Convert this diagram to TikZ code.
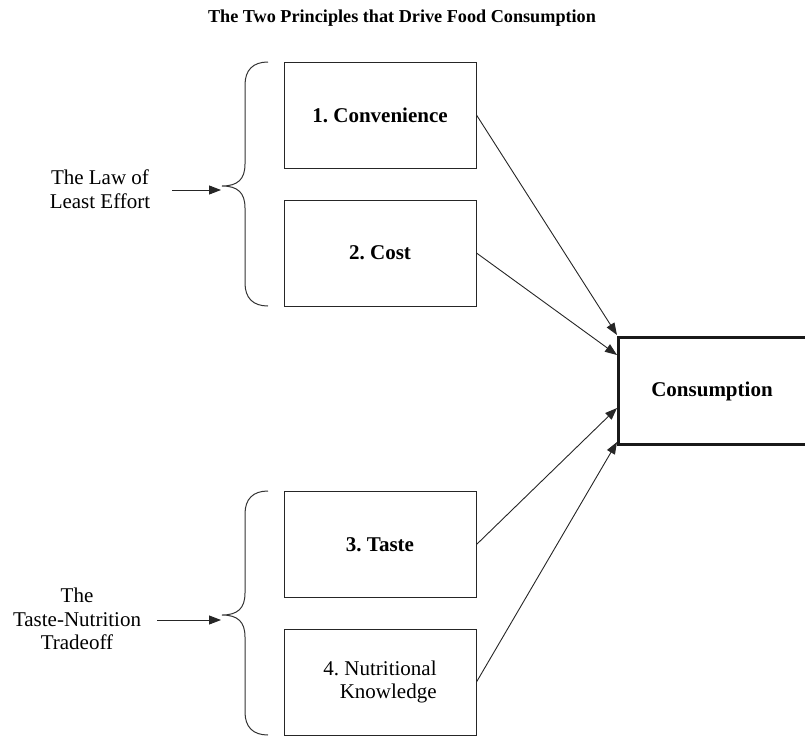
\documentclass[tikz,border=0pt]{standalone}
\usepackage{fontspec}
\setmainfont{Liberation Serif}
\usetikzlibrary{arrows.meta}
\frenchspacing
\begin{document}
\begin{tikzpicture}[x=1pt,y=-1pt,
  box/.style={draw=black!85, line width=1pt, minimum width=192pt, minimum height=106pt, inner sep=0pt, font=\fontsize{21}{23.5}\selectfont\bfseries},
  plainbox/.style={box, font=\fontsize{21}{22.5}\selectfont, align=right},
  consbox/.style={draw=none, minimum width=186pt, minimum height=107pt, inner sep=0pt, font=\fontsize{21}{23.5}\selectfont\bfseries},
  lbl/.style={font=\fontsize{21}{23.5}\selectfont, align=center, inner sep=0pt},
  conn/.style={draw=black!85, line width=0.9pt, -{Triangle[length=12pt,width=9pt]}},
  bracepath/.style={draw=black!80, line width=1pt}]
\clip (0,0) rectangle (805,736);
% title
\node[anchor=base, font=\fontsize{18.2}{20}\selectfont\bfseries, inner sep=0pt] (title) at (402,22) {The Two Principles that Drive Food Consumption};
% boxes
\node[box] (b1) at (380,115) {1. Convenience};
\node[box] (b2) at (380,253) {2. Cost};
\node[box] (b3) at (380,544.5) {3. Taste};
\node[plainbox] (b4) at (380,682) {4. Nutritional\\Knowledge};
% consumption
\node[consbox] (cons) at (712,391) {Consumption};
\draw[line width=3pt, black!90] (cons.north east) -- (cons.north west) -- (cons.south west) -- (cons.south east);
% braces
\path[bracepath] (268,62) .. controls (253,62) and (245,70) .. (245,85) -- (245,164)
  .. controls (245,179) and (238,186) .. (222,186)
  .. controls (238,186) and (245,193) .. (245,208) -- (245,283)
  .. controls (245,298) and (253,306) .. (268,306);
\path[bracepath] (268,491) .. controls (253,491) and (245,499) .. (245,514) -- (245,593)
  .. controls (245,608) and (238,615) .. (222,615)
  .. controls (238,615) and (245,622) .. (245,637) -- (245,712)
  .. controls (245,727) and (253,735) .. (268,735);
% side labels
\node[lbl] (law) at (100,189) {The Law of\\Least Effort};
\node[lbl] (tnt) at (77,619) {The\\Taste-Nutrition\\Tradeoff};
\coordinate (a1s) at (172,190);
\coordinate (a1e) at (221,190);
\coordinate (a2s) at (157,620);
\coordinate (a2e) at (221,620);
\draw[conn] (a1s) -- (a1e);
\draw[conn] (a2s) -- (a2e);
% connectors to consumption
\coordinate (t1) at (617,335);
\coordinate (t2) at (617,355);
\coordinate (t3) at (617,408);
\coordinate (t4) at (617,442);
\draw[conn] (b1.east) -- (t1);
\draw[conn] (b2.east) -- (t2);
\draw[conn] (b3.east) -- (t3);
\draw[conn] (b4.east) -- (t4);
\end{tikzpicture}
\end{document}
